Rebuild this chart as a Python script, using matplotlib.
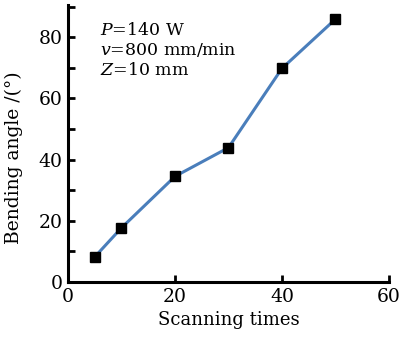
import matplotlib
matplotlib.use('Agg')
import matplotlib.pyplot as plt
from matplotlib.ticker import MultipleLocator

scan_times = [5, 10, 20, 30, 40, 50]
bend_angle = [8.2, 17.7, 34.5, 43.9, 69.8, 85.9]

plt.rcParams['font.family'] = ['DejaVu Serif']
plt.rcParams['mathtext.fontset'] = 'dejavuserif'

fig = plt.figure(figsize=(4.02, 3.38), dpi=100)
ax = fig.add_axes([68 / 402, 56 / 338, 321 / 402, 277 / 338])

ax.plot(scan_times, bend_angle, color='#4a7ebb', lw=2.2, zorder=2)
ax.plot(scan_times, bend_angle, 's', color='black', ms=7.5, zorder=3)

ax.set_xlim(0, 60)
ax.set_ylim(0, 90.5)
ax.xaxis.set_major_locator(MultipleLocator(20))
ax.yaxis.set_major_locator(MultipleLocator(20))
ax.yaxis.set_minor_locator(MultipleLocator(10))

for side in ('top', 'right'):
    ax.spines[side].set_visible(False)
for side in ('left', 'bottom'):
    ax.spines[side].set_linewidth(2.2)

ax.tick_params(axis='both', which='major', direction='in', length=5, width=2,
               labelsize=13.5, pad=4)
ax.tick_params(axis='y', which='minor', direction='in', length=5, width=2)

ax.set_xlabel('Scanning times', fontsize=13, labelpad=4)
ax.set_ylabel('Bending angle /(°)', fontsize=13.5)
ax.yaxis.set_label_coords(-0.14, 0.45)

ax.text(0.1, 0.94, '$P$=140 W\n$v$=800 mm/min\n$Z$=10 mm', transform=ax.transAxes,
        fontsize=12.5, va='top', ha='left', linespacing=1.2)

fig.savefig('out.png', dpi=100)
